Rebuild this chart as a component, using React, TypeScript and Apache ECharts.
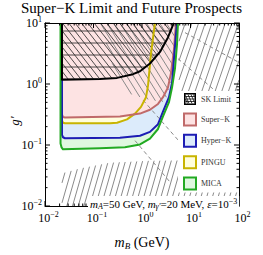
import React, { useEffect, useRef } from 'react';
import * as echarts from 'echarts';

const FONT = '"Liberation Serif", "DejaVu Serif", serif';

// axis ranges
const xRange = [0.01, 100];
const yRange = [0.01, 10];
const xMajor = [0.01, 0.1, 1, 10, 100];
const yMajor = [0.01, 0.1, 1, 10];
const minorMult = [2, 3, 4, 5, 6, 7, 8, 9];

// sensitivity contours: [m_B (GeV), g']
const micaCurve = [[0.0209, 10], [0.0209, 0.106], [0.0219, 0.0916], [0.0235, 0.0851], [0.136, 0.0883], [0.445, 0.0916], [0.91, 0.102], [1.46, 0.127], [2.14, 0.183], [2.71, 0.294], [3.6, 0.506], [4.16, 0.874], [4.79, 1.81], [5.27, 4.49], [5.52, 10]];
const hyperKCurve = [[0.0224, 10], [0.0224, 0.147], [0.0235, 0.134], [0.0258, 0.129], [0.351, 0.132], [0.91, 0.142], [1.46, 0.164], [2.14, 0.219], [2.71, 0.352], [3.6, 0.608], [4.16, 1.05], [4.57, 2.6], [5.02, 6.46], [5.27, 10]];
const superKCurve = [[0.0224, 10], [0.0224, 0.316], [0.0235, 0.288], [0.0258, 0.283], [0.351, 0.294], [0.91, 0.327], [1.46, 0.379], [2.14, 0.471], [2.71, 0.608], [3.43, 0.874], [3.96, 1.51], [4.57, 3.74], [5.02, 10]];
const pinguCurve = [[0.0224, 10], [0.0224, 0.254], [0.0235, 0.232], [0.0258, 0.227], [0.219, 0.227], [0.306, 0.232], [0.491, 0.263], [0.718, 0.327], [0.953, 0.422], [1.21, 0.608], [1.33, 0.94], [1.53, 3.12], [1.85, 10]];
const skLimitCurve = [[0.0224, 10], [0.0224, 1.17], [0.136, 1.21], [0.306, 1.26], [0.652, 1.45], [0.91, 1.62], [1.46, 2.17], [2.35, 3.36], [3.43, 5.79], [4.36, 9.3], [4.57, 10]];

// excluded regions (gray hatched)
const exclRight = [[5.8, 10], [100, 10], [100, 0.057], [5.8, 0.057]];
const exclMid = [[0.136, 10], [5.02, 10], [4.16, 1.26], [2.98, 0.506], [1.46, 0.545], [0.445, 0.729], [0.32, 1.05], [0.199, 3.74]];
const exclLow = [[0.0224, 0.01], [0.0224, 0.0343], [0.0527, 0.0412], [0.219, 0.0512], [1.46, 0.0551], [100, 0.0571], [100, 0.01]];
// gray dashed bounds
const dashLines = [
  [[1.05, 0.545], [14.3, 0.0512]],
  [[0.718, 0.118], [3.78, 0.0247]],
  [[5.52, 2.6], [35.2, 0.729]],
  [[7.71, 6.95], [100, 2.25]],
];

const legendNames = ['SK Limit', 'Super\u2212K', 'Hyper\u2212K', 'PINGU', 'MICA'];

function hatch(pts: number[][], angleDeg: number, spacing: number, phase = 0) {
  const a = (angleDeg * Math.PI) / 180;
  const d = [Math.cos(a), Math.sin(a)];
  const n = [-d[1], d[0]];
  const proj = pts.map((p) => p[0] * n[0] + p[1] * n[1]);
  const cmin = Math.min(...proj);
  const cmax = Math.max(...proj);
  const segs: number[][] = [];
  const start = Math.ceil((cmin - phase) / spacing) * spacing + phase;
  for (let c = start; c <= cmax; c += spacing) {
    const us: number[] = [];
    for (let i = 0; i < pts.length; i++) {
      const j = (i + 1) % pts.length;
      const s1 = proj[i] - c;
      const s2 = proj[j] - c;
      if (s1 < 0 !== s2 < 0) {
        const t = s1 / (s1 - s2);
        const x = pts[i][0] + t * (pts[j][0] - pts[i][0]);
        const y = pts[i][1] + t * (pts[j][1] - pts[i][1]);
        us.push(x * d[0] + y * d[1]);
      }
    }
    us.sort((p, q) => p - q);
    for (let k = 0; k + 1 < us.length; k += 2) {
      segs.push([
        c * n[0] + us[k] * d[0], c * n[1] + us[k] * d[1],
        c * n[0] + us[k + 1] * d[0], c * n[1] + us[k + 1] * d[1],
      ]);
    }
  }
  return segs;
}

function segLines(segs: number[][], stroke: string, lineWidth: number) {
  return segs.map((s) => ({
    type: 'line',
    shape: { x1: s[0], y1: s[1], x2: s[2], y2: s[3] },
    style: { stroke, lineWidth },
  }));
}

function fillSeries(name: string, curve: number[][], fill: string, z: number) {
  return {
    type: 'custom', name, z, silent: true, coordinateSystem: 'cartesian2d',
    data: [curve[0]],
    renderItem: (_p: any, api: any) => ({
      type: 'polygon',
      shape: { points: curve.map((p) => api.coord(p)) },
      style: { fill },
    }),
  };
}

function strokeSeries(name: string, curve: number[][], stroke: string, z: number) {
  return {
    type: 'custom', name, z, silent: true, coordinateSystem: 'cartesian2d',
    data: [curve[0]],
    renderItem: (_p: any, api: any) => ({
      type: 'polyline',
      shape: { points: curve.map((p) => api.coord(p)) },
      style: { fill: 'none', stroke, lineWidth: 2, lineJoin: 'round' },
    }),
  };
}

function supLabel(v: number) {
  const e = Math.round(Math.log10(v));
  const s = e < 0 ? '\u2212' + -e : String(e);
  return `{b|10}{s|${s}}`;
}

const labelRich = {
  b: { fontSize: 12, lineHeight: 12, fontFamily: FONT, color: '#000' },
  s: { fontSize: 8, lineHeight: 8, fontFamily: FONT, color: '#000', padding: [0, 0, 7, 0] },
};

const skIconSvg =
  '<svg xmlns="http://www.w3.org/2000/svg" width="24" height="24" viewBox="0 0 24 24">' +
  '<rect x="1.5" y="1.5" width="21" height="21" fill="#fff" stroke="#000" stroke-width="3"/>' +
  '<path d="M3 7H21M3 12H21M3 17H21M3 5L10 21M8 3L16 21M14 3L21 19M3 12L7 21M19 3L21 8" stroke="#000" stroke-width="1.5" fill="none"/></svg>';
const skIcon = 'image://data:image/svg+xml;charset=utf-8,' + encodeURIComponent(skIconSvg);

function buildOption() {
  const gray = '#8a8a8a';
  return {
    animation: false,
    backgroundColor: '#fff',
    title: {
      text: 'Super\u2212K Limit and Future Prospects',
      left: 'center', top: 0, padding: [1, 0, 0, 0],
      textStyle: { fontFamily: FONT, fontSize: 15, lineHeight: 14, fontWeight: 'normal', color: '#000' },
    },
    grid: { left: 45, right: 24, top: 23, bottom: 42 },
    legend: {
      orient: 'vertical', left: 178, top: 91,
      padding: [2, 10, 2, 5],
      itemWidth: 12, itemHeight: 12, itemGap: 7.4,
      backgroundColor: '#fff',
      selectedMode: false,
      textStyle: { fontFamily: FONT, fontSize: 8, color: '#333' },
      data: [
        { name: legendNames[0], icon: skIcon },
        { name: legendNames[1], icon: 'rect', itemStyle: { color: '#fde3e3', borderColor: '#c06a6a', borderWidth: 2 } },
        { name: legendNames[2], icon: 'rect', itemStyle: { color: '#dcebfb', borderColor: '#1c1cb4', borderWidth: 2 } },
        { name: legendNames[3], icon: 'rect', itemStyle: { color: '#fffedc', borderColor: '#c8b400', borderWidth: 2 } },
        { name: legendNames[4], icon: 'rect', itemStyle: { color: '#dff8df', borderColor: '#22aa22', borderWidth: 2 } },
      ],
    },
    xAxis: [
      {
        type: 'log', logBase: 10, min: xRange[0], max: xRange[1], z: 10,
        axisLine: { show: true, onZero: false, lineStyle: { color: '#000', width: 1 } },
        axisTick: { show: false }, splitLine: { show: false },
        axisLabel: { formatter: supLabel, rich: labelRich, margin: 6, padding: [0, 0, 0, 7] },
        name: '{i|m}{sb|B}{n| (GeV)}', nameLocation: 'middle', nameGap: 29,
        nameTextStyle: {
          rich: {
            i: { fontFamily: FONT, fontStyle: 'italic', fontSize: 14, color: '#000' },
            sb: { fontFamily: FONT, fontStyle: 'italic', fontSize: 9, color: '#000', padding: [6, 0, 0, 0] },
            n: { fontFamily: FONT, fontSize: 14, color: '#000' },
          },
        },
      },
      {
        type: 'log', logBase: 10, min: xRange[0], max: xRange[1], position: 'top', z: 10,
        axisLine: { show: true, onZero: false, lineStyle: { color: '#000', width: 1 } },
        axisTick: { show: false }, axisLabel: { show: false }, splitLine: { show: false },
      },
    ],
    yAxis: [
      {
        type: 'log', logBase: 10, min: yRange[0], max: yRange[1], z: 10,
        axisLine: { show: true, onZero: false, lineStyle: { color: '#000', width: 1 } },
        axisTick: { show: false }, splitLine: { show: false },
        axisLabel: { formatter: supLabel, rich: labelRich, margin: 3 },
      },
      {
        type: 'log', logBase: 10, min: yRange[0], max: yRange[1], position: 'right', z: 10,
        axisLine: { show: true, onZero: false, lineStyle: { color: '#000', width: 1 } },
        axisTick: { show: false }, axisLabel: { show: false }, splitLine: { show: false },
      },
    ],
    graphic: [
      {
        type: 'text', x: 14, y: 121, rotation: Math.PI / 2, z: 100,
        style: {
          text: 'g\u2032', x: 0, y: 0, align: 'center', verticalAlign: 'middle',
          fontFamily: FONT, fontStyle: 'italic', fontSize: 13, fill: '#000',
        },
      },
      {
        type: 'text', x: 88, y: 196, z: 100,
        style: {
          text: '{i|m}{sb|A}{n|=50 GeV, }{i|m}{sb|\u03b3\u2032}{n|=20 MeV, }{i|\u03b5}{n|=10}{sp|\u22123}',
          backgroundColor: '#fff',
          padding: [1, 2, 1, 2],
          rich: {
            i: { fontFamily: FONT, fontStyle: 'italic', fontSize: 11, fill: '#000' },
            n: { fontFamily: FONT, fontSize: 11, fill: '#000' },
            sb: { fontFamily: FONT, fontStyle: 'italic', fontSize: 8, fill: '#000', padding: [5, 0, 0, 0] },
            sp: { fontFamily: FONT, fontSize: 8, fill: '#000', padding: [0, 0, 6, 0] },
          },
        },
      },
    ],
    series: [
      fillSeries(legendNames[4], micaCurve, '#dff8df', 2),
      fillSeries(legendNames[2], hyperKCurve, '#dcebfb', 2),
      fillSeries(legendNames[3], pinguCurve, '#fffedc', 2),
      fillSeries(legendNames[1], superKCurve, '#fde3e3', 2),
      {
        type: 'custom', name: 'excluded', z: 3, silent: true, coordinateSystem: 'cartesian2d',
        data: [exclLow[0]],
        renderItem: (_p: any, api: any) => {
          const toPx = (c: number[][]) => c.map((p) => api.coord(p));
          const children: any[] = [
            ...segLines(hatch(toPx(exclRight), -71, 6.3), gray, 1),
            ...segLines(hatch(toPx(exclMid), 58, 5.6), gray, 1),
            ...segLines(hatch(toPx(exclLow), -74, 5.5), gray, 1),
          ];
          dashLines.forEach((l) => {
            const a = api.coord(l[0]);
            const b = api.coord(l[1]);
            children.push({
              type: 'line', shape: { x1: a[0], y1: a[1], x2: b[0], y2: b[1] },
              style: { stroke: gray, lineWidth: 1, lineDash: [4, 3] },
            });
          });
          return { type: 'group', children };
        },
      },
      {
        type: 'custom', name: legendNames[0], z: 4, silent: true, coordinateSystem: 'cartesian2d',
        data: [skLimitCurve[0]],
        renderItem: (_p: any, api: any) => {
          const pts = skLimitCurve.map((p) => api.coord(p));
          return {
            type: 'group',
            children: [
              ...segLines(hatch(pts, 0, 12, 7), '#222', 0.8),
              ...segLines(hatch(pts, 52, 5), '#222', 0.8),
            ],
          };
        },
      },
      strokeSeries(legendNames[3], pinguCurve, '#c8b400', 5),
      strokeSeries(legendNames[1], superKCurve, '#c06a6a', 5),
      strokeSeries(legendNames[2], hyperKCurve, '#1c1cb4', 5),
      strokeSeries(legendNames[4], micaCurve, '#22aa22', 5),
      strokeSeries(legendNames[0], skLimitCurve, '#000', 6),
      {
        type: 'custom', name: 'ticks', z: 11, silent: true, coordinateSystem: 'cartesian2d',
        data: [[xRange[0], yRange[0]]],
        renderItem: (params: any, api: any) => {
          const cs = params.coordSys;
          const L = cs.x, R = cs.x + cs.width, T = cs.y, B = cs.y + cs.height;
          const children: any[] = [];
          const add = (x1: number, y1: number, x2: number, y2: number) =>
            children.push({ type: 'line', shape: { x1, y1, x2, y2 }, style: { stroke: '#000', lineWidth: 1 } });
          const xt: [number, number][] = [];
          xMajor.forEach((v) => xt.push([v, 5]));
          xMajor.slice(0, -1).forEach((v) => minorMult.forEach((m) => xt.push([v * m, 2.5])));
          const yt: [number, number][] = [];
          yMajor.forEach((v) => yt.push([v, 5]));
          yMajor.slice(0, -1).forEach((v) => minorMult.forEach((m) => yt.push([v * m, 2.5])));
          xt.forEach(([v, len]) => {
            const px = api.coord([v, yRange[0]])[0];
            add(px, B, px, B - len);
            add(px, T, px, T + len);
          });
          yt.forEach(([v, len]) => {
            const py = api.coord([xRange[0], v])[1];
            add(L, py, L + len, py);
            add(R, py, R - len, py);
          });
          return { type: 'group', children };
        },
      },
    ],
  };
}

export default function App() {
  const ref = useRef<HTMLDivElement>(null);
  useEffect(() => {
    document.body.style.margin = '0';
    const chart = echarts.init(ref.current as HTMLDivElement, null, { renderer: 'svg' });
    chart.setOption(buildOption() as any);
    return () => chart.dispose();
  }, []);
  return <div ref={ref} style={{ width: 263, height: 255 }} />;
}
